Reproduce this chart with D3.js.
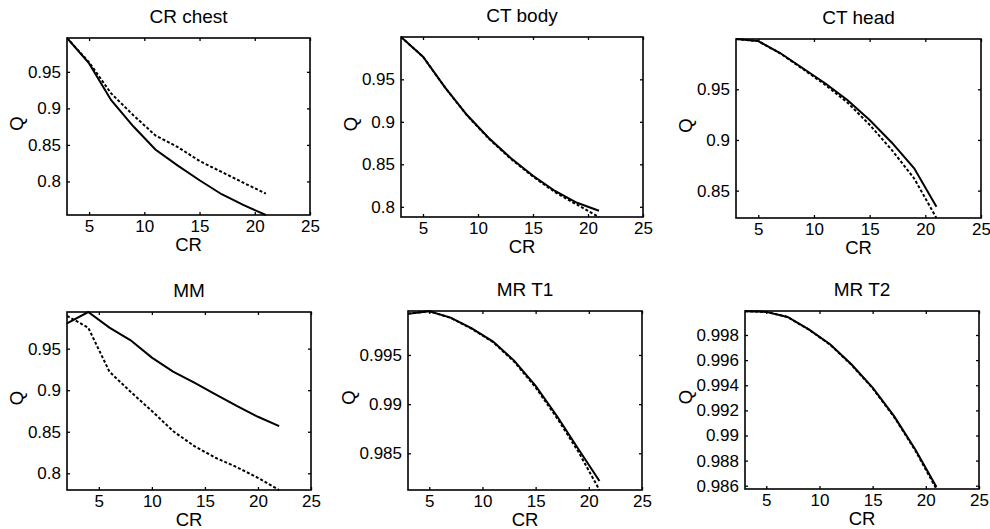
<!DOCTYPE html>
<html>
<head>
<meta charset="utf-8">
<script src="https://cdn.jsdelivr.net/npm/d3@7/dist/d3.min.js"></script>
<style>
    body { margin: 0; background: #fff; }
    text { font-family: "Liberation Sans", Arial, sans-serif; fill: #000; }
    .tick-label { font-size: 17px; }
    .title { font-size: 19px; }
    .axis-label { font-size: 18.5px; }
</style>
</head>
<body>
<div id="plot"></div>
<script>
let svgWidth = 990;
let svgHeight = 529;

// Data
let titles = ['CR chest', 'CT body', 'CT head', 'MM', 'MR T1', 'MR T2'];

let crOdd = [3, 5, 7, 9, 11, 13, 15, 17, 19, 21];
let crEven = [2, 4, 6, 8, 10, 12, 14, 16, 18, 20, 22];

let chestSolid = [0.9963, 0.9615, 0.9112, 0.8755, 0.8437, 0.8220, 0.8016, 0.7825, 0.7675, 0.7541];
let chestDotted = [0.9963, 0.9630, 0.9204, 0.8907, 0.8630, 0.8473, 0.8280, 0.8130, 0.7980, 0.7834];

let bodySolid = [0.9998, 0.9766, 0.9406, 0.9080, 0.8806, 0.8570, 0.8366, 0.8186, 0.8047, 0.7953];
let bodyDotted = [0.9998, 0.9766, 0.9404, 0.9076, 0.8800, 0.8562, 0.8355, 0.8172, 0.8025, 0.7880];

let headSolid = [0.9996, 0.9975, 0.9855, 0.9707, 0.9560, 0.9394, 0.9197, 0.8973, 0.8720, 0.8340];
let headDotted = [0.9996, 0.9975, 0.9852, 0.9700, 0.9545, 0.9370, 0.9150, 0.8900, 0.8620, 0.8230];

let mmSolid = [0.9805, 0.9941, 0.9753, 0.9600, 0.9392, 0.9223, 0.9090, 0.8950, 0.8810, 0.8680, 0.8568];
let mmDotted = [0.9894, 0.9753, 0.9223, 0.8980, 0.8750, 0.8508, 0.8327, 0.8187, 0.8074, 0.7946, 0.7799];

let t1Solid = [0.99920, 0.99945, 0.99880, 0.99770, 0.99636, 0.99440, 0.99185, 0.98880, 0.98547, 0.98219];
let t1Dotted = [0.99920, 0.99945, 0.99878, 0.99766, 0.99630, 0.99430, 0.99170, 0.98860, 0.98520, 0.98127];

let t2Solid = [0.99990, 0.99984, 0.99944, 0.99845, 0.99726, 0.99567, 0.99381, 0.99156, 0.98890, 0.98590];
let t2Dotted = [0.99990, 0.99984, 0.99943, 0.99843, 0.99723, 0.99563, 0.99376, 0.99150, 0.98882, 0.98574];

let xTicks = [5, 10, 15, 20, 25];
let yTicksA = [0.8, 0.85, 0.9, 0.95];
let yTicksHead = [0.85, 0.9, 0.95];
let yTicksT1 = [0.985, 0.99, 0.995];
let yTicksT2 = [0.986, 0.988, 0.99, 0.992, 0.994, 0.996, 0.998];

let panels = [
    { title: titles[0], x: crOdd, solid: chestSolid, dotted: chestDotted, xDomain: [3, 25], yDomain: [0.7541, 0.9963], yTicks: yTicksA },
    { title: titles[1], x: crOdd, solid: bodySolid, dotted: bodyDotted, xDomain: [3, 25], yDomain: [0.7880, 0.9998], yTicks: yTicksA },
    { title: titles[2], x: crOdd, solid: headSolid, dotted: headDotted, xDomain: [3, 25], yDomain: [0.8230, 0.9996], yTicks: yTicksHead },
    { title: titles[3], x: crEven, solid: mmSolid, dotted: mmDotted, xDomain: [2, 25], yDomain: [0.7799, 0.9941], yTicks: yTicksA },
    { title: titles[4], x: crOdd, solid: t1Solid, dotted: t1Dotted, xDomain: [3, 25], yDomain: [0.98127, 0.99947], yTicks: yTicksT1 },
    { title: titles[5], x: crOdd, solid: t2Solid, dotted: t2Dotted, xDomain: [3, 25], yDomain: [0.98574, 0.99991], yTicks: yTicksT2 }
];

// Axes boxes in pixels [left, top, right, bottom], plus Q label offset
let layout = [
    { box: [67, 38, 310, 215], qOff: 44 },
    { box: [401, 37, 643, 217], qOff: 44 },
    { box: [736, 39, 981, 218], qOff: 44 },
    { box: [67, 312, 311, 490], qOff: 44 },
    { box: [408, 311, 642, 490], qOff: 53 },
    { box: [745, 311, 979, 489], qOff: 53 }
];

let $svg = d3.select('#plot')
    .append('svg')
    .attr('width', svgWidth)
    .attr('height', svgHeight);

let tickLen = 3;

function drawPanel(p, l) {
    let [x0, y0, x1, y1] = l.box;
    let w = x1 - x0;
    let h = y1 - y0;

    let $g = $svg.append('g')
        .attr('transform', `translate(${x0}, ${y0})`);

    let xScale = d3.scaleLinear().domain(p.xDomain).range([0, w]);
    let yScale = d3.scaleLinear().domain(p.yDomain).range([h, 0]);

    // Inward ticks on all four sides, matlab style
    let fmt = d => String(+d.toFixed(4));
    $g.append('g')
        .attr('transform', `translate(0, ${h})`)
        .call(d3.axisBottom(xScale).tickValues(xTicks).tickSizeInner(-tickLen).tickSizeOuter(0).tickPadding(5).tickFormat(fmt));
    $g.append('g')
        .call(d3.axisTop(xScale).tickValues(xTicks).tickSizeInner(-tickLen).tickSizeOuter(0).tickFormat(''));
    $g.append('g')
        .call(d3.axisLeft(yScale).tickValues(p.yTicks).tickSizeInner(-tickLen).tickSizeOuter(0).tickPadding(6).tickFormat(fmt));
    $g.append('g')
        .attr('transform', `translate(${w}, 0)`)
        .call(d3.axisRight(yScale).tickValues(p.yTicks).tickSizeInner(-tickLen).tickSizeOuter(0).tickFormat(''));

    $g.selectAll('.domain').remove();
    $g.selectAll('.tick line').attr('stroke', '#000').attr('stroke-width', 1.3);
    $g.selectAll('.tick text')
        .attr('class', 'tick-label')
        .attr('font-size', null)
        .attr('font-family', null);

    // Clip the curves to the box
    let clipId = 'clip-' + p.title.replace(/\s/g, '');
    $g.append('clipPath').attr('id', clipId)
        .append('rect').attr('x', 0).attr('y', -1).attr('width', w).attr('height', h + 2);

    let line = d3.line()
        .x(d => xScale(d[0]))
        .y(d => yScale(d[1]));

    $g.append('path')
        .datum(p.x.map((v, i) => [v, p.dotted[i]]))
        .attr('clip-path', `url(#${clipId})`)
        .attr('d', line)
        .attr('fill', 'none')
        .attr('stroke', '#000')
        .attr('stroke-width', 2)
        .attr('stroke-dasharray', '3,2');

    $g.append('path')
        .datum(p.x.map((v, i) => [v, p.solid[i]]))
        .attr('clip-path', `url(#${clipId})`)
        .attr('d', line)
        .attr('fill', 'none')
        .attr('stroke', '#000')
        .attr('stroke-width', 2);

    // Box
    $g.append('rect')
        .attr('width', w)
        .attr('height', h)
        .attr('fill', 'none')
        .attr('stroke', '#000')
        .attr('stroke-width', 1.6);

    $g.append('text')
        .attr('class', 'title')
        .attr('x', w / 2)
        .attr('y', -15)
        .attr('text-anchor', 'middle')
        .text(p.title);

    $g.append('text')
        .attr('class', 'axis-label')
        .attr('x', w / 2)
        .attr('y', h + 36)
        .attr('text-anchor', 'middle')
        .text('CR');

    $g.append('text')
        .attr('class', 'axis-label')
        .attr('transform', `translate(${-l.qOff}, ${h / 2 - 3}) rotate(-90)`)
        .attr('text-anchor', 'middle')
        .text('Q');
}

panels.forEach((p, i) => drawPanel(p, layout[i]));
</script>
</body>
</html>
